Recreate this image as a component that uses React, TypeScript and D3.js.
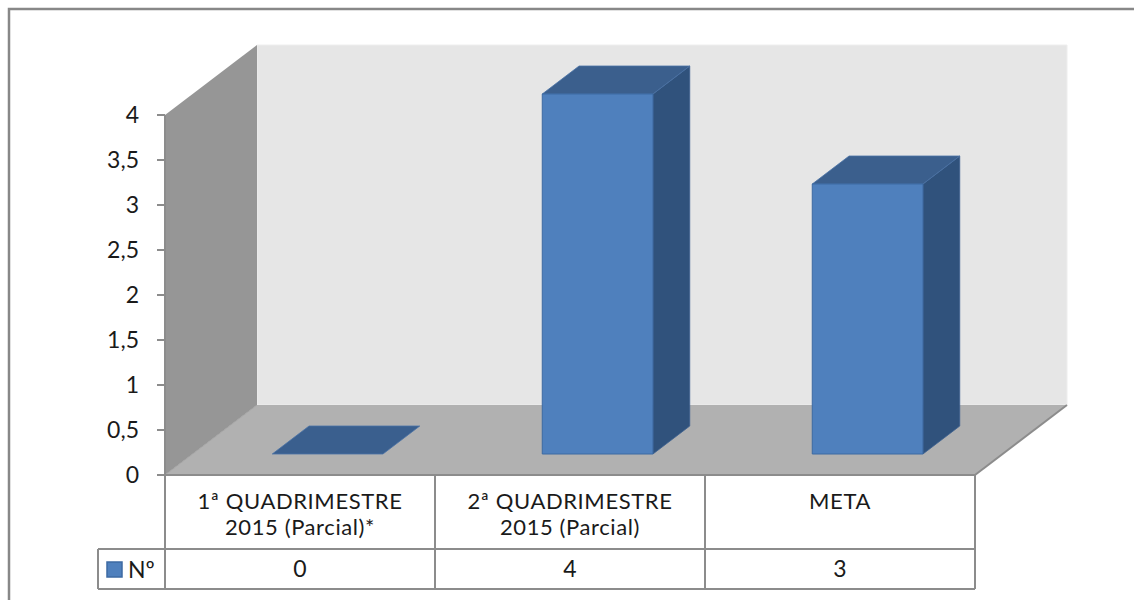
import React from "react";
import * as d3 from "d3";

const categories = ["1ª QUADRIMESTRE 2015 (Parcial)*", "2ª QUADRIMESTRE 2015 (Parcial)", "META"];
const categoryLines = [["1ª QUADRIMESTRE", "2015 (Parcial)*"], ["2ª QUADRIMESTRE", "2015 (Parcial)"], ["META"]];
const seriesName = "Nº";
const values = [0, 4, 3];
const yTicks = [0, 0.5, 1, 1.5, 2, 2.5, 3, 3.5, 4];

const W = 1134;
const H = 600;
const FONT = "Lato, 'Open Sans', sans-serif";

const locale = d3.formatLocale({ decimal: ",", thousands: ".", grouping: [3], currency: ["", ""] });
const fmt = locale.format(".1~f");

export default function App() {
  const plotLeft = 165;
  const plotRight = 975;
  const y = d3.scaleLinear().domain([0, 4]).range([475, 115]);
  const x = d3.scaleBand<string>().domain(categories).range([plotLeft, plotRight]);
  const DX = 92;
  const DY = 70;
  const p = (px: number, py: number, d: number): [number, number] => [px + d * DX, py - d * DY];
  const poly = (pts: [number, number][]) => pts.map((q) => q.join(",")).join(" ");
  const d0 = 0.3;
  const d1 = 0.7;
  const barFrac = 0.41;
  const yTop = y(4);
  const yBase = y(0);
  const tableTop = yBase;
  const rowSplit = 549;
  const tableBottom = 589;
  const legendLeft = 98;
  const gridColor = "#8c8c8c";
  const textColor = "#1a1a1a";

  return (
    <svg width={W} height={H} style={{ position: "absolute", left: 0, top: 0 }} fontFamily={FONT}>
      <rect x={0} y={0} width={W} height={H} fill="#fff" />
      {/* outer chart border */}
      <rect x={9} y={9} width={1300} height={800} fill="none" stroke="#888" strokeWidth={2.5} />

      {/* back wall */}
      <polygon
        points={poly([p(plotLeft, yTop, 1), p(plotRight, yTop, 1), p(plotRight, yBase, 1), p(plotLeft, yBase, 1)])}
        fill="#e6e6e6"
        stroke="#eeeeee"
        strokeWidth={1}
      />
      {/* left wall */}
      <polygon
        points={poly([p(plotLeft, yTop, 0), p(plotLeft, yTop, 1), p(plotLeft, yBase, 1), p(plotLeft, yBase, 0)])}
        fill="#969696"
      />
      {/* floor */}
      <polygon
        points={poly([p(plotLeft, yBase, 0), p(plotRight, yBase, 0), p(plotRight, yBase, 1), p(plotLeft, yBase, 1)])}
        fill="#b1b1b1"
      />
      <line
        x1={p(plotLeft, yBase, 0)[0]}
        y1={p(plotLeft, yBase, 0)[1]}
        x2={p(plotLeft, yBase, 1)[0]}
        y2={p(plotLeft, yBase, 1)[1]}
        stroke="#a4a4a4"
        strokeWidth={1}
      />
      <line
        x1={p(plotRight, yBase, 0)[0]}
        y1={p(plotRight, yBase, 0)[1]}
        x2={p(plotRight, yBase, 1)[0]}
        y2={p(plotRight, yBase, 1)[1]}
        stroke={gridColor}
        strokeWidth={2}
      />

      {/* bars */}
      {categories.map((c, i) => {
        const bw = x.bandwidth();
        const x0 = (x(c) as number) + (bw * (1 - barFrac)) / 2;
        const x1 = x0 + bw * barFrac;
        const yv = y(values[i]);
        const top = poly([p(x0, yv, d0), p(x1, yv, d0), p(x1, yv, d1), p(x0, yv, d1)]);
        if (values[i] === 0) {
          return <polygon key={c} points={top} fill="#3a5f8e" stroke="#4a72a6" strokeWidth={0.8} />;
        }
        return (
          <g key={c}>
            <polygon
              points={poly([p(x1, yv, d0), p(x1, yv, d1), p(x1, yBase, d1), p(x1, yBase, d0)])}
              fill="#30527c"
              stroke="#3c6190"
              strokeWidth={0.8}
            />
            <polygon points={top} fill="#3b5f8d" stroke="#4a72a6" strokeWidth={0.8} />
            <polygon
              points={poly([p(x0, yv, d0), p(x1, yv, d0), p(x1, yBase, d0), p(x0, yBase, d0)])}
              fill="#4f80bd"
              stroke="#3d6aa3"
              strokeWidth={1}
            />
          </g>
        );
      })}

      {/* y axis */}
      <line x1={plotLeft} y1={yTop} x2={plotLeft} y2={tableBottom} stroke={gridColor} strokeWidth={2} />
      {yTicks.map((t) => (
        <g key={t}>
          <line x1={plotLeft - 8} x2={plotLeft} y1={y(t)} y2={y(t)} stroke={gridColor} strokeWidth={2} />
          <text x={139} y={y(t) + 8} textAnchor="end" fontSize={23} fill={textColor}>
            {fmt(t)}
          </text>
        </g>
      ))}

      {/* data table */}
      <line x1={plotLeft} x2={plotRight} y1={tableTop} y2={tableTop} stroke={gridColor} strokeWidth={2} />
      <line x1={legendLeft} x2={plotRight} y1={rowSplit} y2={rowSplit} stroke={gridColor} strokeWidth={2} />
      <line x1={legendLeft} x2={plotRight} y1={tableBottom} y2={tableBottom} stroke={gridColor} strokeWidth={2} />
      <line x1={legendLeft} x2={legendLeft} y1={rowSplit} y2={tableBottom} stroke={gridColor} strokeWidth={2} />
      {categories.map((c) => (
        <line
          key={"v" + c}
          x1={(x(c) as number) + x.bandwidth()}
          x2={(x(c) as number) + x.bandwidth()}
          y1={tableTop}
          y2={tableBottom}
          stroke={gridColor}
          strokeWidth={2}
        />
      ))}
      {categories.map((c, i) => (
        <g key={"t" + c}>
          {categoryLines[i].map((ln, j) => (
            <text
              key={j}
              x={(x(c) as number) + x.bandwidth() / 2}
              y={508.5 + j * 26.5}
              textAnchor="middle"
              fontSize={22}
              letterSpacing={0.6}
              fill={textColor}
            >
              {ln}
            </text>
          ))}
          <text x={(x(c) as number) + x.bandwidth() / 2} y={577} textAnchor="middle" fontSize={23} fill={textColor}>
            {values[i]}
          </text>
        </g>
      ))}
      {/* legend cell */}
      <rect x={107} y={562} width={15} height={15} fill="#4f80bd" stroke="#3d6aa3" strokeWidth={1.5} />
      <text x={128} y={578} fontSize={23} fill={textColor}>
        {seriesName}
      </text>
    </svg>
  );
}
